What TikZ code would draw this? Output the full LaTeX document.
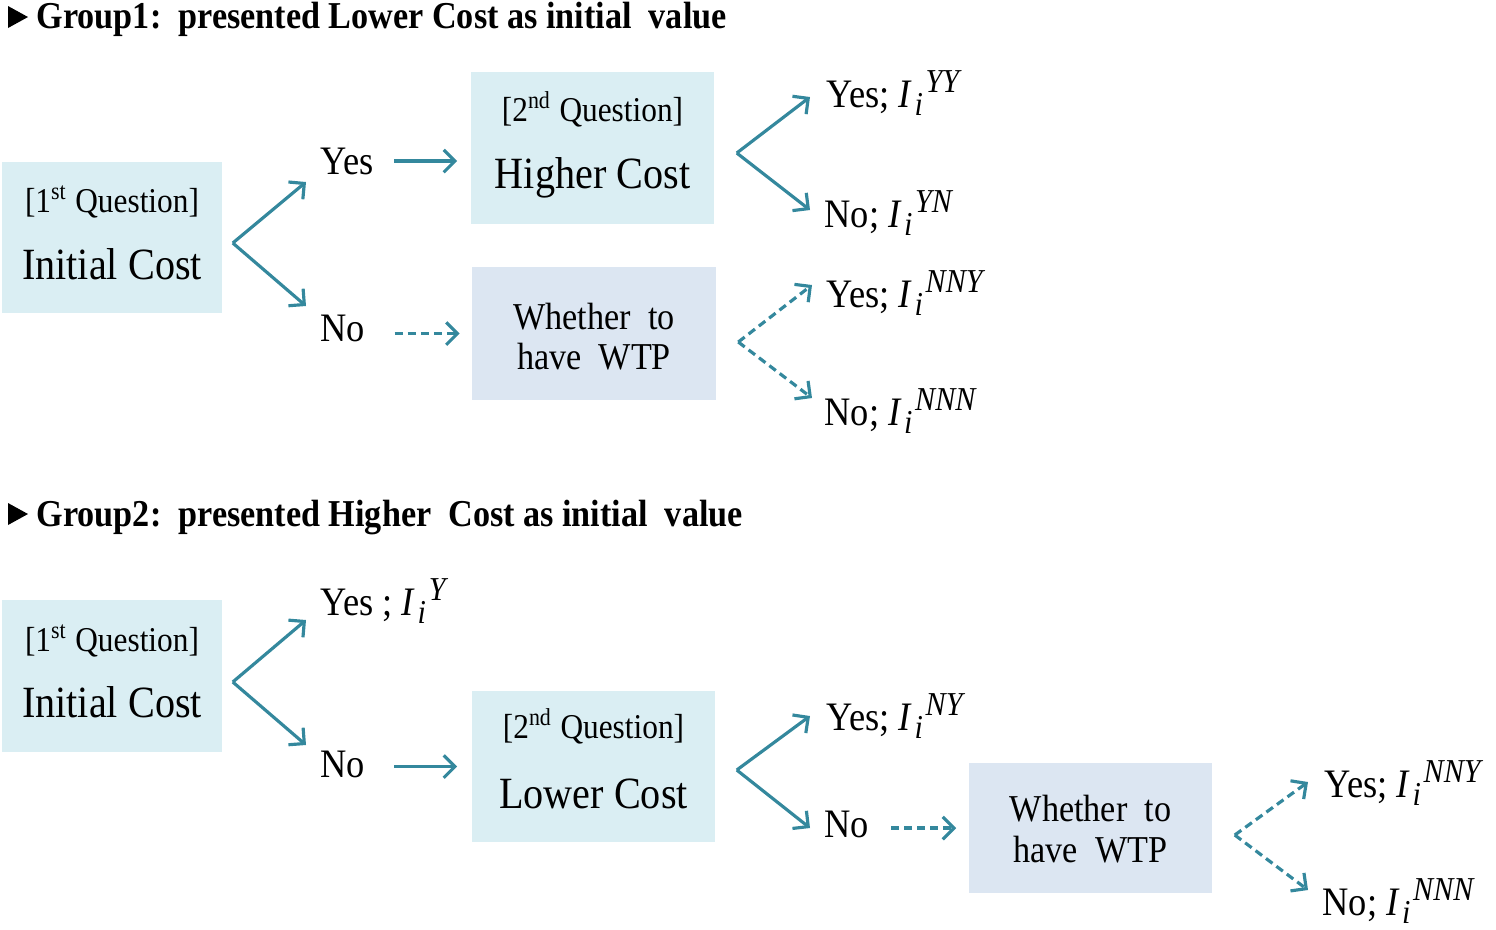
\documentclass[tikz,border=0pt]{standalone}
\usepackage{fontspec}
\setmainfont{Liberation Serif}[FakeStretch=0.9]
\usetikzlibrary{arrows.meta}

\definecolor{qblue}{RGB}{218,238,243}
\definecolor{wblue}{RGB}{220,230,242}
\definecolor{flowteal}{RGB}{52,136,157}

\newcommand{\Isup}[1]{\textit{I}\kern0.6pt\raisebox{-2.3pt}{\fontsize{9.5}{11}\selectfont\textit{i}}\kern0.8pt\raisebox{4pt}{\fontsize{9.5}{11}\selectfont\textit{#1}}}

\tikzset{
  qbox/.style={fill=qblue, inner sep=0pt, minimum width=2.43cm, minimum height=1.52cm},
  wbox/.style={fill=wblue, inner sep=0pt, minimum width=2.43cm, minimum height=1.32cm},
  head/.style={anchor=base west, inner sep=0pt, font=\fontsize{10.8}{13}\selectfont\bfseries},
  qtag/.style={anchor=base, inner sep=0pt, font=\fontsize{9.9}{12}\selectfont},
  cost/.style={anchor=base, inner sep=0pt, font=\fontsize{12.7}{15}\selectfont},
  wtxt/.style={anchor=base, inner sep=0pt, font=\fontsize{10.8}{13}\selectfont},
  ans/.style={anchor=base west, inner sep=0pt, font=\fontsize{11.5}{14}\selectfont},
  flow/.style={draw=flowteal, line width=0.9pt, -{Straight Barb[length=3.2pt,width=6.4pt]}},
  maybe/.style={flow, dash pattern=on 2.3pt off 1.4pt},
}

\begin{document}
\begin{tikzpicture}[x=0.01cm, y=-0.01cm]
\useasboundingbox (0,0) rectangle (1496,929);

% Group 1
\fill (8,6) -- (28,17) -- (8,28) -- cycle;
\node[head] (h1) at (36,28) {Group1:\ \ presented Lower Cost as initial\ \ value};

\node[qbox, minimum width=2.2cm, minimum height=1.51cm] (ic1) at (112,237.5) {};
\node[qtag] (ic1a) at (112,212) {[1\textsuperscript{st} Question]};
\node[cost] (ic1b) at (112,279) {Initial Cost};

\node[qbox] (hc1) at (592.5,148) {};
\node[qtag] (hc1a) at (592.5,121) {[2\textsuperscript{nd} Question]};
\node[cost] (hc1b) at (592.5,188) {Higher Cost};

\node[wbox, minimum height=1.33cm] (wt1) at (594,333.5) {};
\node[wtxt] (wt1a) at (594,329) {Whether\ \ to};
\node[wtxt] (wt1b) at (594,369) {have\ \ WTP};

\node[ans] (y1) at (320,174) {Yes};
\node[ans] (n1) at (320,341) {No};
\node[ans] (yy1) at (826,107) {Yes; \Isup{YY}};
\node[ans] (yn1) at (824,227) {No; \Isup{YN}};
\node[ans] (nny1) at (826,307) {Yes; \Isup{NNY}};
\node[ans] (nnn1) at (824,425) {No; \Isup{NNN}};

\coordinate (f1) at ([shift={(10,5.5)}]ic1.east);
\draw[flow] (f1) -- ([shift={(-14,8)}]y1.base west);
\draw[flow] (f1) -- ([shift={(-14,-35)}]n1.base west);
\draw[flow] ([shift={(-76,13)}]hc1.west) -- ([shift={(-13,13)}]hc1.west);
\draw[maybe] ([shift={(-77,0)}]wt1.west) -- ([shift={(-12,0)}]wt1.west);

\coordinate (f2) at ([shift={(22,5)}]hc1.east);
\draw[flow] (f2) -- ([shift={(-16,-10)}]yy1.base west);
\draw[flow] (f2) -- ([shift={(-14,-17)}]yn1.base west);

\coordinate (f3) at ([shift={(22,8.5)}]wt1.east);
\draw[maybe] (f3) -- ([shift={(-14,-22)}]nny1.base west);
\draw[maybe] (f3) -- ([shift={(-12,-27)}]nnn1.base west);

% Group 2
\fill (8,503) -- (28,514) -- (8,525) -- cycle;
\node[head] (h2) at (36,526) {Group2:\ \ presented Higher\ \ Cost as initial\ \ value};

\node[qbox, minimum width=2.2cm] (ic2) at (112,676) {};
\node[qtag] (ic2a) at (112,651) {[1\textsuperscript{st} Question]};
\node[cost] (ic2b) at (112,717) {Initial Cost};

\node[qbox, minimum height=1.51cm] (lc2) at (593.5,766.5) {};
\node[qtag] (lc2a) at (593.5,738) {[2\textsuperscript{nd} Question]};
\node[cost] (lc2b) at (593.5,808) {Lower Cost};

\node[wbox, minimum height=1.3cm] (wt2) at (1090.5,828) {};
\node[wtxt] (wt2a) at (1090.5,821) {Whether\ \ to};
\node[wtxt] (wt2b) at (1090.5,862) {have\ \ WTP};

\node[ans] (y2) at (320,615) {Yes ; \Isup{Y}};
\node[ans] (n2) at (320,777) {No};
\node[ans] (ny2) at (826,730) {Yes; \Isup{NY}};
\node[ans] (nn2) at (824,837) {No};
\node[ans] (nny2) at (1324,797) {Yes; \Isup{NNY}};
\node[ans] (nnn2) at (1322,915) {No; \Isup{NNN}};

\coordinate (f4) at ([shift={(10,6)}]ic2.east);
\draw[flow] (f4) -- ([shift={(-14,5)}]y2.base west);
\draw[flow] (f4) -- ([shift={(-14,-32)}]n2.base west);
\draw[flow] ([shift={(-77,0)}]lc2.west) -- ([shift={(-14,0)}]lc2.west);

\coordinate (f5) at ([shift={(21,3.5)}]lc2.east);
\draw[flow] (f5) -- ([shift={(-16,-14)}]ny2.base west);
\draw[flow] (f5) -- ([shift={(-14,-9)}]nn2.base west);
\draw[maybe] ([shift={(-77,0)}]wt2.west) -- ([shift={(-12,0)}]wt2.west);

\coordinate (f6) at ([shift={(22,7)}]wt2.east);
\draw[maybe] (f6) -- ([shift={(-16,-15)}]nny2.base west);
\draw[maybe] (f6) -- ([shift={(-14,-25)}]nnn2.base west);
\end{tikzpicture}
\end{document}
